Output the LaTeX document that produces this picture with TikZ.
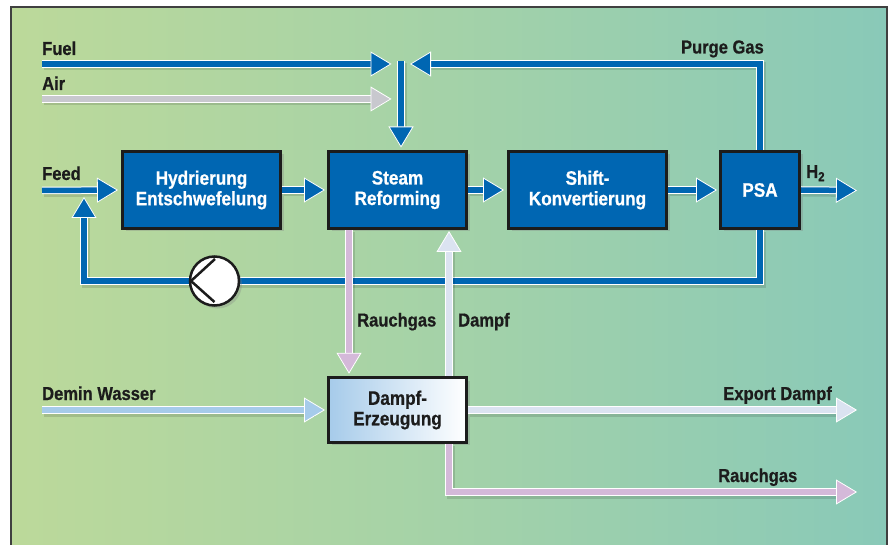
\documentclass[tikz,border=0pt]{standalone}
\usepackage{fontspec}
\setmainfont{Liberation Sans}[FakeStretch=0.88, BoldFeatures={FakeBold=0.6}]
\usetikzlibrary{arrows.meta,shadows,calc}
\definecolor{pblue}{RGB}{0,102,178}
\definecolor{airgray}{RGB}{200,200,206}
\definecolor{lav}{RGB}{212,185,217}
\definecolor{steamc}{RGB}{219,227,241}
\definecolor{deminc}{RGB}{166,203,234}
\definecolor{txt}{RGB}{28,28,28}
\definecolor{bgl}{RGB}{188,217,154}
\definecolor{bgm}{RGB}{164,210,168}
\definecolor{bgr}{RGB}{137,201,184}
\tikzset{
  flow/.style={line width=5.5pt, draw=#1,
    -{Triangle[length=21pt,width=25pt,fill=#1,color=white,line width=0.8pt]},
    preaction={draw=black, draw opacity=0.12, line width=8pt, shorten >=14pt, transform canvas={xshift=2pt,yshift=-2.5pt}, -},
    preaction={draw=white, line width=7.5pt, shorten >=12pt, -}},
  blockbox/.style={draw=txt, line width=3pt, fill=pblue, text=white,
    font=\bfseries\fontsize{19.5}{20.5}\selectfont, align=center, inner sep=0pt,
    drop shadow={opacity=0.3, shadow xshift=3pt, shadow yshift=-3pt}},
  lbl/.style={text=txt, font=\bfseries\fontsize{18.8}{20}\selectfont, inner sep=0pt}
}
\begin{document}
\begin{tikzpicture}[x=1pt,y=-1pt]
\useasboundingbox (0,0) rectangle (888,545);
% background
\shade[left color=bgl, right color=bgr, middle color=bgm] (11,7) rectangle (887,560);
\draw[black!75, line width=1.2pt] (887,560) -- (887,7) -- (11,7) -- (11,560);

% nodes
\node[blockbox, minimum width=158pt, minimum height=77pt] (hyd) at (201.5,190) {Hydrierung\\Entschwefelung};
\node[blockbox, minimum width=138pt, minimum height=77pt] (steam) at (397.5,190) {Steam\\Reforming};
\node[blockbox, minimum width=158pt, minimum height=77pt] (shift) at (587.5,190) {Shift-\\Konvertierung};
\node[blockbox, minimum width=79pt, minimum height=77pt] (psa) at (760,190) {PSA};
\node[blockbox, minimum width=138pt, minimum height=64.5pt, fill=none, text=txt,
  left color=deminc, right color=white] (dampf) at (397.5,410) {Dampf-\\Erzeugung};

% coordinates
\coordinate (fuelin) at (42,64);
\coordinate (fuelend) at (391.5,64);
\coordinate (airin) at (42,99);
\coordinate (airend) at (391.5,99);
\coordinate (mix) at (401,61);
\coordinate (purgeend) at (410,64);
\coordinate (feedin) at (42,190.5);
\coordinate (h2end) at (857,190.5);
\coordinate (recL) at (84,281);
\coordinate (recTip) at (84,197);
\coordinate (rgx) at (349,300);
\coordinate (dx) at (449,300);
\coordinate (demin) at (42,410);
\coordinate (exportend) at (857,410);
\coordinate (rgend) at (857,492);

% connectors
\draw[flow=pblue] (fuelin) -- (fuelend);
\draw[flow=airgray] (airin) -- (airend);
\draw[flow=pblue, shorten >=2.5pt] (mix) -- (mix |- steam.north);
\draw[flow=pblue] (psa.north) -- (psa.north |- purgeend) -- (purgeend);
\draw[flow=pblue, shorten >=3pt] (feedin) -- (hyd.west);
\draw[flow=pblue, shorten >=2pt] (hyd.east) -- (steam.west);
\draw[flow=pblue, shorten >=3pt] (steam.east) -- (shift.west);
\draw[flow=pblue, shorten >=2pt] (shift.east) -- (psa.west);
\draw[flow=pblue] (psa.east) -- (h2end);
\draw[flow=pblue] (psa.south) |- (recL) -- (recTip);
\draw[flow=lav, shorten >=2.5pt] (rgx |- steam.south) -- (rgx |- dampf.north);
\draw[flow=steamc, shorten >=1pt] (dx |- dampf.north) -- (dx |- steam.south);
\draw[flow=deminc, shorten >=2pt] (demin) -- (dampf.west);
\draw[flow=steamc] (dampf.east) -- (exportend);
\draw[flow=lav] (dx |- dampf.south) |- (rgend);

% redraw boxes' borders on top of line starts
\foreach \n in {hyd,steam,shift,psa,dampf} {
  \draw[txt, line width=3pt] (\n.north west) ++(1.5,1.5) rectangle ($(\n.south east)+(-1.5,-1.5)$);
}

% compressor
\node[circle, draw=txt, line width=2.5pt, fill=white, minimum size=49pt, inner sep=0pt,
  drop shadow={opacity=0.3, shadow xshift=3pt, shadow yshift=-3pt}] (comp) at (214.5,281) {};
\draw[txt, line width=2.5pt] ($(comp.center)+(0.5,-22)$) -- ($(comp.center)+(-23.5,0)$) -- ($(comp.center)+(0,21)$);

% labels
\node[lbl, anchor=base west] (lfuel) at (42,55) {Fuel};
\node[lbl, anchor=base west] (lair) at (42,90) {Air};
\node[lbl, anchor=base west] (lfeed) at (42,180) {Feed};
\node[lbl, anchor=base east] (lpurge) at (764,53.5) {Purge Gas};
\node[lbl, anchor=base west] (lh2) at (806,178) {H\textsubscript{2}};
\node[lbl, anchor=base west] (lrg) at (357,326.5) {Rauchgas};
\node[lbl, anchor=base west] (ldampf) at (458,326.5) {Dampf};
\node[lbl, anchor=base west] (ldemin) at (42,400) {Demin Wasser};
\node[lbl, anchor=base east] (lexport) at (832,400) {Export Dampf};
\node[lbl, anchor=base west] (lrg2) at (718,482) {Rauchgas};
\end{tikzpicture}
\end{document}
